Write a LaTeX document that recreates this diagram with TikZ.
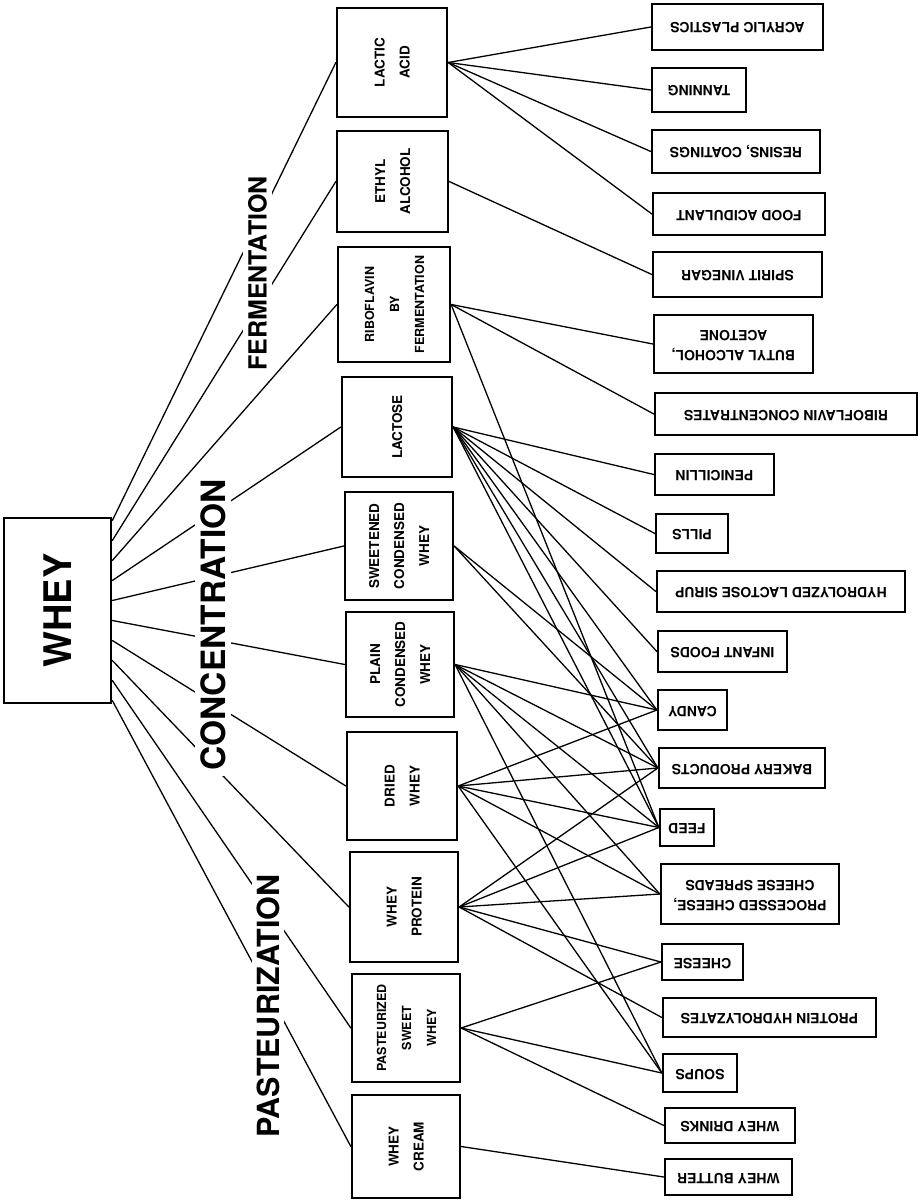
\documentclass[tikz,border=0pt]{standalone}
\usepackage{fontspec}
\setmainfont{TeX Gyre Heros}
\usetikzlibrary{calc}
\tikzset{
  box/.style={draw, line width=2.3pt, inner sep=0pt},
  link/.style={line width=1.3pt}
}
\newcommand{\vtext}[1]{\rotatebox{90}{\begin{tabular}{@{}c@{}}#1\end{tabular}}}
\newcommand{\utext}[1]{\rotatebox{180}{\begin{tabular}{@{}c@{}}#1\end{tabular}}}

\begin{document}
\begin{tikzpicture}
    [x=1pt, y=-1pt, line cap=round,
    % Styles
    midbox/.style={box, font=\bfseries\fontsize{13.5}{25}\selectfont},
    endbox/.style={box, font=\bfseries\fontsize{14}{20}\selectfont},
    process/.style={rotate=90, fill=white, inner sep=5pt}]

    \useasboundingbox (0,0) rectangle (920,1201);

    % Source
    \node[box, line width=2.8pt, minimum width=107, minimum height=185,
          font=\bfseries\fontsize{38}{38}\selectfont] (whey) at (57.5,610.5) {\rotatebox{90}{WHEY}};

    % Products
    \node[midbox, minimum width=110, minimum height=109] (lactic)  at (392,62.5)  {\vtext{LACTIC\\ACID}};
    \node[midbox, minimum width=111, minimum height=101] (ethyl)   at (392.5,181.5) {\vtext{ETHYL\\ALCOHOL}};
    \node[midbox, minimum width=112, minimum height=115,
          font=\bfseries\fontsize{12.5}{25}\selectfont] (ribo) at (394,304.5) {\vtext{RIBOFLAVIN\\BY\\FERMENTATION}};
    \node[midbox, minimum width=110, minimum height=100] (lactose) at (397,427)   {\vtext{LACTOSE}};
    \node[midbox, minimum width=108, minimum height=108] (sweet)   at (399,546)   {\vtext{SWEETENED\\CONDENSED\\WHEY}};
    \node[midbox, minimum width=108, minimum height=105] (plain)   at (400,664.5) {\vtext{PLAIN\\CONDENSED\\WHEY}};
    \node[midbox, minimum width=110, minimum height=108] (dried)   at (402,786)   {\vtext{DRIED\\WHEY}};
    \node[midbox, minimum width=108, minimum height=110] (protein) at (404,907)   {\vtext{WHEY\\PROTEIN}};
    \node[midbox, minimum width=108, minimum height=108,
          font=\bfseries\fontsize{12.5}{25}\selectfont] (pasteur) at (406,1028) {\vtext{PASTEURIZED\\SWEET\\WHEY}};
    \node[midbox, minimum width=108, minimum height=103] (cream)   at (406,1146.5) {\vtext{WHEY\\CREAM}};

    % Uses
    \node[endbox, minimum width=171, minimum height=46] (acrylic)  at (737.5,27)   {\utext{ACRYLIC PLASTICS}};
    \node[endbox, minimum width=94,  minimum height=44] (tanning)  at (699,90)     {\utext{TANNING}};
    \node[endbox, minimum width=168, minimum height=43] (resins)   at (736,151.5)  {\utext{RESINS, COATINGS}};
    \node[endbox, minimum width=172, minimum height=42] (food)     at (739,214)    {\utext{FOOD ACIDULANT}};
    \node[endbox, minimum width=169, minimum height=45] (vinegar)  at (737.5,274.5) {\utext{SPIRIT VINEGAR}};
    \node[endbox, minimum width=159, minimum height=58] (butyl)    at (733.5,344)  {\utext{BUTYL ALCOHOL,\\ACETONE}};
    \node[endbox, minimum width=262, minimum height=42] (riboconc) at (786,414)    {\utext{RIBOFLAVIN CONCENTRATES}};
    \node[endbox, minimum width=119, minimum height=41] (penicil)  at (714.5,474.5) {\utext{PENICILLIN}};
    \node[endbox, minimum width=72,  minimum height=39] (pills)    at (692,533.5)  {\utext{PILLS}};
    \node[endbox, minimum width=248, minimum height=41] (sirup)    at (781,591.5)  {\utext{HYDROLYZED LACTOSE SIRUP}};
    \node[endbox, minimum width=129, minimum height=41] (infant)   at (722.5,651.5) {\utext{INFANT FOODS}};
    \node[endbox, minimum width=69,  minimum height=40] (candy)    at (692.5,710)  {\utext{CANDY}};
    \node[endbox, minimum width=166, minimum height=40] (bakery)   at (742,768)    {\utext{BAKERY PRODUCTS}};
    \node[endbox, minimum width=54,  minimum height=37] (feed)     at (687,827.5)  {\utext{FEED}};
    \node[endbox, minimum width=178, minimum height=60] (processed) at (750,894)   {\utext{PROCESSED CHEESE,\\CHEESE SPREADS}};
    \node[endbox, minimum width=81,  minimum height=36] (cheese)   at (702.5,962)  {\utext{CHEESE}};
    \node[endbox, minimum width=213, minimum height=39] (hydro)    at (769.5,1017.5) {\utext{PROTEIN HYDROLYZATES}};
    \node[endbox, minimum width=74,  minimum height=38] (soups)    at (700,1073)   {\utext{SOUPS}};
    \node[endbox, minimum width=130, minimum height=35] (drinks)   at (730,1125.5) {\utext{WHEY DRINKS}};
    \node[endbox, minimum width=127, minimum height=36] (butter)   at (728.5,1177) {\utext{WHEY BUTTER}};

    % Whey to products
    \foreach \m [count=\i, evaluate=\i as \f using 0.02+0.96*(\i-1)/9] in
        {lactic,ethyl,ribo,lactose,sweet,plain,dried,protein,pasteur,cream}
        \draw[link] ($(whey.north east)!\f!(whey.south east)$) -- (\m.west);

    % Products to uses
    \foreach \a/\b in {lactic/acrylic, lactic/tanning, lactic/resins, lactic/food,
                       ethyl/vinegar,
                       ribo/butyl, ribo/riboconc, ribo/feed,
                       lactose/penicil, lactose/pills, lactose/sirup, lactose/infant,
                       lactose/candy, lactose/bakery, lactose/feed,
                       sweet/candy, sweet/bakery,
                       plain/candy, plain/bakery, plain/feed, plain/processed, plain/soups,
                       dried/candy, dried/bakery, dried/feed, dried/processed, dried/soups,
                       protein/bakery, protein/feed, protein/processed, protein/cheese, protein/hydro,
                       pasteur/cheese, pasteur/soups, pasteur/drinks,
                       cream/butter}
        \draw[link] (\a.east) -- (\b.west);

    % Processes
    \node[process, font=\bfseries\fontsize{25}{25}\selectfont] (ferm) at (257.5,273.5) {FERMENTATION};
    \node[process, font=\bfseries\fontsize{33.5}{33.5}\selectfont] (conc) at (213,625) {CONCENTRATION};
    \node[process, font=\bfseries\fontsize{30.5}{30.5}\selectfont] (past) at (268,1006) {PASTEURIZATION};
\end{tikzpicture}
\end{document}
